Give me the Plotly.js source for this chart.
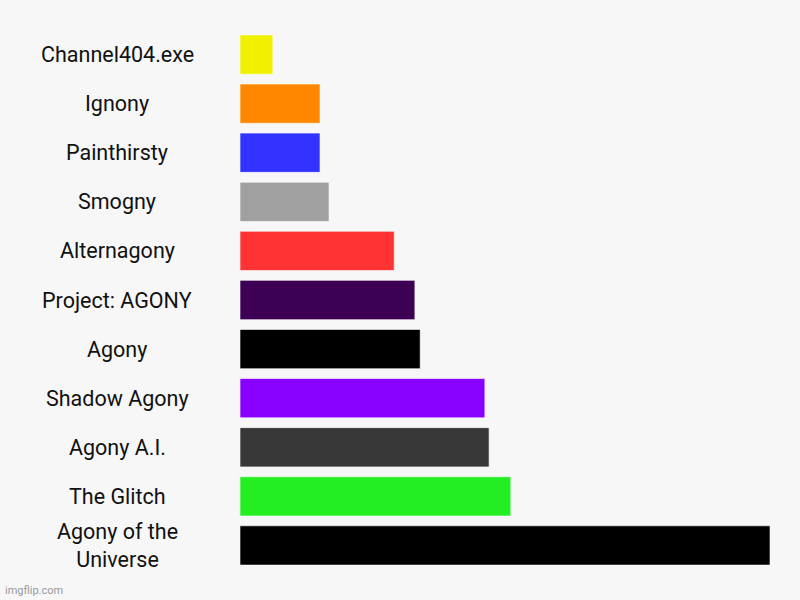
<!DOCTYPE html>
<html>
<head>
<meta charset="utf-8">
<script src="https://cdn.plot.ly/plotly-3.0.1.min.js"></script>
<style>
  html, body { margin: 0; padding: 0; background: #f7f7f7; }
  #wrap { position: relative; width: 800px; height: 600px; }
  #chart { width: 800px; height: 600px; }
  #mark {
    position: absolute; left: 5px; bottom: 3px;
    font: 11px Roboto, sans-serif; color: #999;
  }
</style>
</head>
<body>
<div id="wrap">
  <div id="chart"></div>
  <div id="mark">imgflip.com</div>
</div>
<script>
// ── Data (top to bottom) ─────────────────────────────────────
const NAMES = [
  'Channel404.exe', 'Ignony', 'Painthirsty', 'Smogny', 'Alternagony',
  'Project: AGONY', 'Agony', 'Shadow Agony', 'Agony A.I.', 'The Glitch',
  'Agony of the<br>Universe',
];
const VALUES = [6.2, 15.1, 15.1, 16.8, 29.1, 33, 34, 46.2, 47, 51.1, 100];
const COLORS = [
  '#f0f000', '#ff8800', '#3333ff', '#a0a0a0', '#ff3333',
  '#3d0055', '#000000', '#8800ff', '#383838', '#22ee22', '#000000',
];

// category keys need to be unique and plain
const KEYS = NAMES.map((n, i) => 'c' + i);

const trace = {
  type: 'bar',
  orientation: 'h',
  x: VALUES,
  y: KEYS,
  marker: { color: COLORS, line: { color: 'rgba(255,255,255,0.6)', width: 1 } },
  hoverinfo: 'skip',
};

// labels centred in the left gutter
const labels = NAMES.map((n, i) => ({
  xref: 'paper', yref: 'y',
  x: -0.232, y: KEYS[i],
  text: n,
  showarrow: false,
  xanchor: 'center', yanchor: 'middle',
  align: 'center',
  font: { family: 'Roboto, sans-serif', size: 21.5, color: '#111' },
}));

const layout = {
  width: 800, height: 600,
  paper_bgcolor: '#f7f7f7',
  plot_bgcolor: '#f7f7f7',
  margin: { l: 240, r: 30, t: 30, b: 29.5, autoexpand: false },
  bargap: 0.2,
  showlegend: false,
  xaxis: {
    range: [0, 100], visible: false, fixedrange: true,
  },
  yaxis: {
    range: [KEYS.length - 0.5, -0.5], showticklabels: false, showgrid: false,
    zeroline: false, showline: false, ticks: '', fixedrange: true,
  },
  annotations: labels,
};

Plotly.newPlot('chart', [trace], layout, { displayModeBar: false, staticPlot: true });
</script>
</body>
</html>
